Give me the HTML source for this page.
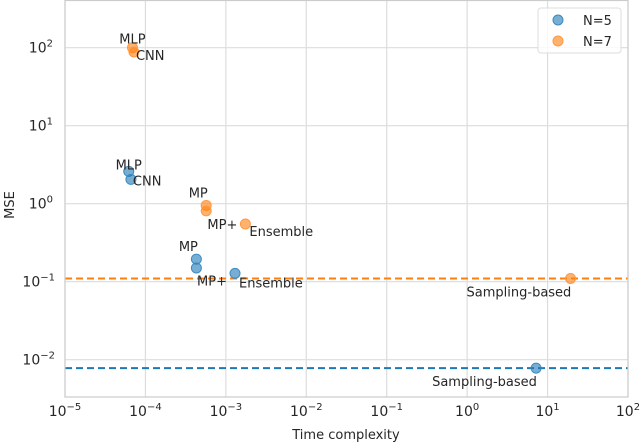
<!DOCTYPE html>
<html><head><meta charset="utf-8"><style>
html,body{margin:0;padding:0;background:#fff;}
svg{display:block;font-family:"DejaVu Sans","Liberation Sans",sans-serif;}
</style></head><body>
<svg id="chart" width="640" height="443" viewBox="0 0 640 443">
<g id="grid"></g>
<g id="lines"></g>
<g id="points"></g>
<g id="labels"></g>
<g id="ticks"></g>
<rect x="65" y="0.5" width="563" height="396.5" fill="none" stroke="#cccccc" stroke-width="1.2"/>
<text x="346" y="439" font-size="13" fill="#262626" text-anchor="middle">Time complexity</text>
<text transform="translate(14,205) rotate(-90)" font-size="13" fill="#262626" text-anchor="middle">MSE</text>
<g>
<rect x="538" y="8" width="83" height="45" rx="3" fill="#fff" fill-opacity="0.8" stroke="#dddddd"/>
<g>
<circle cx="558" cy="20" r="5" fill="#1f77b4" fill-opacity="0.6" stroke="#3a8cc4" stroke-width="1"/>
<text x="583" y="25" font-size="13" fill="#262626">N=5</text></g>
<g>
<circle cx="558" cy="41" r="5" fill="#ff7f0e" fill-opacity="0.6" stroke="#ff9a40" stroke-width="1"/>
<text x="583" y="46" font-size="13" fill="#262626">N=7</text></g>
</g>
</svg>
<script>
const xTicks=[-5,-4,-3,-2,-1,0,1,2];
const yTicks=[2,1,0,-1,-2];
const n5Names=["MLP","CNN","MP","MP","MP+Ensemble","Sampling-based"];
const n5Time=[6.2e-5,6.6e-5,4.3e-4,4.3e-4,1.3e-3,7.2];
const n5Mse=[2.6,2.05,0.195,0.15,0.128,0.0078];
const n7Names=["MLP","CNN","MP","MP","MP+Ensemble","Sampling-based"];
const n7Time=[6.9e-5,7.2e-5,5.7e-4,5.7e-4,1.75e-3,19.3];
const n7Mse=[100,88,0.95,0.81,0.55,0.11];
const n5Baseline=0.0078, n7Baseline=0.11;

const X0=65,X1=628,LX0=-5,LX1=2, Y2=47.7, YD=78;
const sx=v=>X0+(Math.log10(v)-LX0)*(X1-X0)/(LX1-LX0);
const sxl=l=>X0+(l-LX0)*(X1-X0)/(LX1-LX0);
const syl=l=>Y2+(2-l)*YD;
const sy=v=>syl(Math.log10(v));
const NS="http://www.w3.org/2000/svg";
function mk(tag,attrs,parent,txt){const e=document.createElementNS(NS,tag);for(const k in attrs)e.setAttribute(k,attrs[k]);if(txt!==undefined)e.textContent=txt;document.getElementById(parent).appendChild(e);return e;}
const sup=n=>String(n).replace('-','\u2212');
xTicks.forEach(t=>{const x=sxl(t);
 const g=mk('line',{x1:x,x2:x,y1:0,y2:397,stroke:'#dddddd','stroke-width':1.2},'grid');
 
 
 const tx=mk('text',{x:x,y:416,'font-size':14,fill:'#262626','text-anchor':'middle'},'ticks');
 
 
 tx.innerHTML='10<tspan dy="-6" font-size="10">'+sup(t)+'</tspan>';});
yTicks.forEach(t=>{const y=syl(t);
 const g=mk('line',{x1:65,x2:628,y1:y,y2:y,stroke:'#dddddd','stroke-width':1.2},'grid');
 
 
 const tx=mk('text',{x:t<0?55:53,y:y+5,'font-size':14,fill:'#262626','text-anchor':'end'},'ticks');
 
 
 tx.innerHTML='10<tspan dy="-6" font-size="10">'+sup(t)+'</tspan>';});
[[n5Baseline,'#1f77b4','n5-baseline'],[n7Baseline,'#ff7f0e','n7-baseline']].forEach(([v,c,n])=>{
 const l=mk('line',{x1:65,x2:628,y1:sy(v),y2:sy(v),stroke:c,'stroke-width':2,'stroke-dasharray':'7,4'},'lines');
 
 });
const off5=[[0,-2,'middle'],[2,6,'start'],[-8,-8,'middle'],null,[-38,12,'start'],[-104,18,'start']];
const off7=[[0,-4,'middle'],[2,8,'start'],[-8,-8,'middle'],null,[-38,5,'start'],[-104,18,'start']];
function series(names,t,m,c,sc,off,key){
 names.forEach((nm,i)=>{const x=sx(t[i]),y=sy(m[i]);
  const p=mk('circle',{cx:x,cy:y,r:5,fill:c,'fill-opacity':0.6,stroke:sc,'stroke-width':1},'points');
  
  
  const o=off[i]; if(!o) return;
  if(nm==='MP+Ensemble'){
   const a=mk('text',{x:x+o[0],y:y+o[1],'font-size':13,fill:'#262626'},'labels','MP+');
   
   
   const b=mk('text',{x:x+4,y:y+o[1]+(key==='n5'?2:7),'font-size':13,fill:'#262626'},'labels','Ensemble');
   
   
  } else {
   const a=mk('text',{x:x+o[0],y:y+o[1],'font-size':13,fill:'#262626','text-anchor':o[2]},'labels',nm);
   
   
  }});}
series(n5Names,n5Time,n5Mse,'#1f77b4','#3a8cc4',off5,'n5');
series(n7Names,n7Time,n7Mse,'#ff7f0e','#ff9a40',off7,'n7');
</script>
</body></html>
